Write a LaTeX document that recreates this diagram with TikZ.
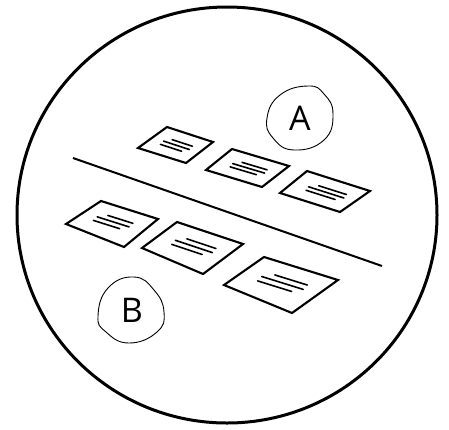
\documentclass[tikz,border=0pt]{standalone}
\usepackage{fontspec}
\setmainfont{Open Sans}
\usetikzlibrary{calc, positioning}

% one tilted card: name, four corners (top-left, top-right, bottom-right, bottom-left)
\newcommand{\card}[5]{%
    \coordinate (#1-a) at #2;
    \coordinate (#1-b) at #3;
    \coordinate (#1-c) at #4;
    \coordinate (#1-d) at #5;
    \draw[cardedge] (#1-a) -- (#1-b) -- (#1-c) -- (#1-d) -- cycle;
    \foreach \v/\us/\ue in {0.36/0.34/0.78, 0.5/0.24/0.8, 0.64/0.26/0.72}
        \draw[scribble] ($(#1-a)!\v!(#1-d) + \us*(#1-b) - \us*(#1-a)$)
            -- ($(#1-a)!\v!(#1-d) + \ue*(#1-b) - \ue*(#1-a)$);
}

\begin{document}
\begin{tikzpicture}[
    x=1pt, y=-1pt,
    cardedge/.style={draw, line width=2.1pt, line join=miter},
    scribble/.style={line width=1.6pt, line cap=round},
    blob/.style={draw, line width=0.9pt},
    lbl/.style={font=\fontsize{34}{34}\selectfont, inner sep=0pt}
]
    \useasboundingbox (0,0) rectangle (449,429);

    % outer circle
    \coordinate (centre) at (227,215);
    \draw[line width=3pt] (centre) ellipse (210pt and 208pt);

    % divider
    \coordinate (div-l) at (73,158);
    \coordinate (div-r) at (382,266);
    \draw[line width=2pt] (div-l) -- (div-r);

    % upper row of cards
    \card{c1}{(167,127)}{(213,142)}{(186,163)}{(138,148)}
    \card{c2}{(232,149)}{(289,166)}{(262,187)}{(206,170)}
    \card{c3}{(307,171)}{(370,191)}{(340,212)}{(280,193)}

    % lower row of cards
    \card{c4}{(101,201)}{(158,219)}{(124,247)}{(66,224)}
    \card{c5}{(177,222)}{(243,244)}{(203,274)}{(142,248)}
    \card{c6}{(264,257)}{(338,280)}{(292,313)}{(224,285)}

    % labels
    \node[lbl] (A) at (300,118) {A};
    \draw[blob, shift={(A)}] plot[smooth cycle, tension=0.8] coordinates
        {(8,-32) (24,-24) (33,-4) (24,22) (-6,32) (-27,20) (-33,0) (-20,-23)};

    \node[lbl] (B) at (132,310) {B};
    \draw[blob, shift={(B)}] plot[smooth cycle, tension=0.8] coordinates
        {(2,-33) (22,-20) (32,2) (25,22) (-3,33) (-26,22) (-34,6) (-24,-22)};
\end{tikzpicture}
\end{document}
